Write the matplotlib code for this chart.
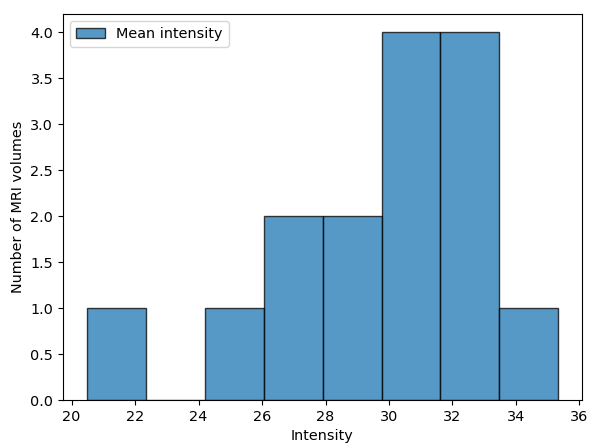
import matplotlib
matplotlib.use("Agg")
import matplotlib.pyplot as plt
import numpy as np

# Histogram of mean intensity across MRI volumes
bin_edges = [20.47, 22.33, 24.19, 26.05, 27.91, 29.77, 31.62, 33.48, 35.34]
counts = [1, 0, 1, 2, 2, 4, 4, 1]

fs = 10.4
fig = plt.figure(figsize=(5.89, 4.43), dpi=100)
ax = fig.add_axes([63 / 589, 43 / 443, 519 / 589, 386 / 443])

ax.hist(bin_edges[:-1], bins=bin_edges, weights=counts,
        alpha=0.75, edgecolor="black", label="Mean intensity")

ax.set_xticks(np.arange(20, 37, 2))
ax.set_yticks(np.arange(0, 4.01, 0.5))
ax.set_xlabel("Intensity", fontsize=fs, labelpad=4)
ax.set_ylabel("Number of MRI volumes", fontsize=fs, labelpad=4)
ax.tick_params(labelsize=fs, length=3.6)
ax.legend(loc="upper left", fontsize=fs)

fig.savefig("out.png", dpi=100)
